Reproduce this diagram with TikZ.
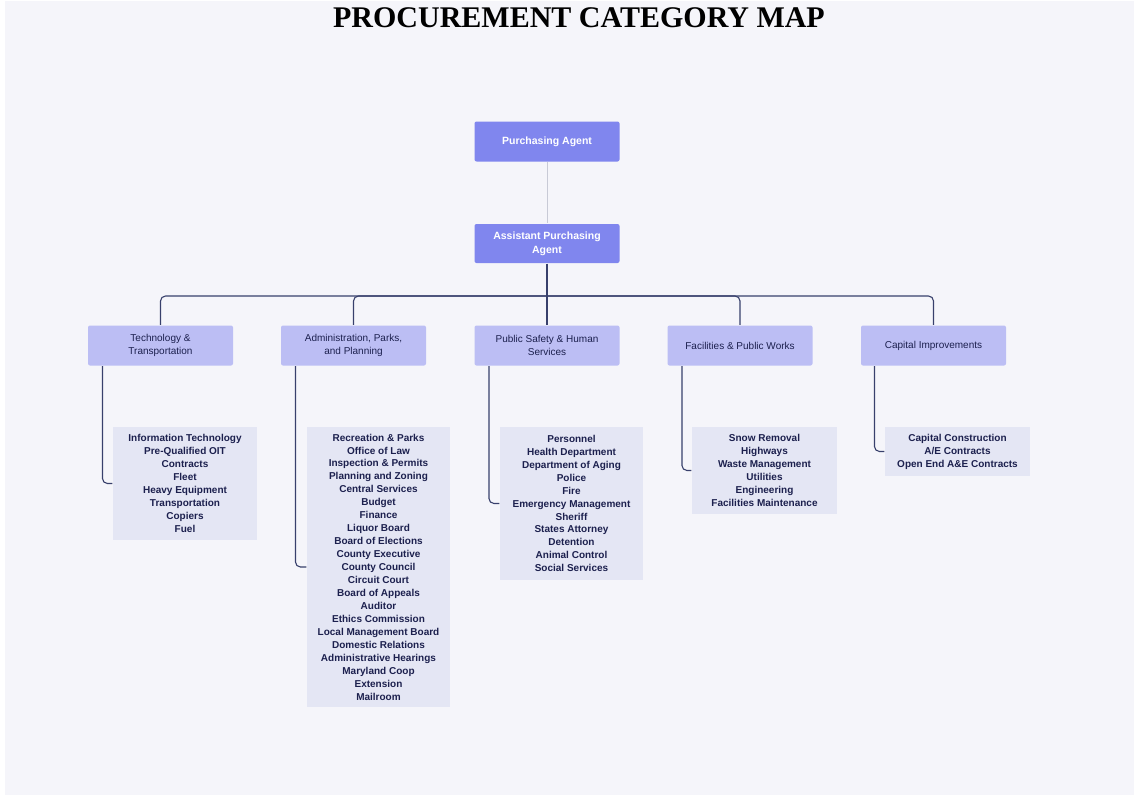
\documentclass[tikz,border=0pt]{standalone}
\usepackage{fontspec}
\setmainfont{Liberation Sans}
\newfontfamily\titlefont{Liberation Serif}
\definecolor{pagebg}{RGB}{245,245,250}
\definecolor{agentfill}{RGB}{128,134,238}
\definecolor{catfill}{RGB}{188,190,244}
\definecolor{listfill}{RGB}{228,230,244}
\definecolor{navyink}{RGB}{28,32,78}
\definecolor{wire}{RGB}{56,64,108}
\definecolor{softwire}{RGB}{200,202,214}

\begin{document}
\begin{tikzpicture}[x=1pt,y=-1pt,line width=1.1pt,
  agent/.style={fill=agentfill,rounded corners=2pt,minimum width=145pt,minimum height=40pt,
    text=white,align=center,font=\bfseries\fontsize{10.5}{14}\selectfont},
  category/.style={fill=catfill,rounded corners=2pt,minimum width=145pt,minimum height=40pt,
    text=navyink,align=center,font=\fontsize{10}{13.5}\selectfont},
  unitlist/.style={fill=listfill,minimum width=144pt,inner sep=3pt,
    text=navyink,align=center,font=\bfseries\fontsize{10}{12.95}\selectfont},
  feed/.style={draw=wire,rounded corners=5pt}]
% ---------- page ----------
\fill[white] (0,0) rectangle (1134,795);
\fill[pagebg] (5,1) rectangle (1134,795);
\useasboundingbox (0,0) rectangle (1134,795);
\node[font=\titlefont\bfseries\fontsize{30}{32}\selectfont,text=black] (title) at (579,18) {PROCUREMENT CATEGORY MAP};
% ---------- agents ----------
\node[agent] (pa) at (547,141.5) {Purchasing Agent};
\node[agent,minimum height=39pt] (apa) at (547,243.5) {Assistant Purchasing\\Agent};
\draw[draw=softwire,line width=0.6pt] (pa) -- (apa);
% ---------- categories ----------
\node[category] (tech) at (160.5,345.5) {Technology \&\\Transportation};
\node[category] (admin) at (353.5,345.5) {Administration, Parks,\\and Planning};
\node[category] (safety) at (547,345.5) {Public Safety \& Human\\Services};
\node[category] (works) at (740,345.5) {Facilities \& Public Works};
\node[category] (capital) at (933.5,345.5) {Capital Improvements};
\coordinate (bus) at (547,296);
\draw[wire] (apa) -- (bus) -- (safety);
\foreach \cat in {tech,admin,works,capital}
  \draw[feed] (bus) -| (\cat);
% ---------- unit lists ----------
\node[unitlist,minimum height=113pt] (techlist) at (185,483.5) {Information Technology\\Pre-Qualified OIT\\Contracts\\Fleet\\Heavy Equipment\\Transportation\\Copiers\\Fuel};
\node[unitlist,minimum width=143pt,minimum height=280pt] (adminlist) at (378.5,567) {Recreation \& Parks\\Office of Law\\Inspection \& Permits\\Planning and Zoning\\Central Services\\Budget\\Finance\\Liquor Board\\Board of Elections\\County Executive\\County Council\\Circuit Court\\Board of Appeals\\Auditor\\Ethics Commission\\Local Management Board\\Domestic Relations\\Administrative Hearings\\Maryland Coop\\Extension\\Mailroom};
\node[unitlist,minimum width=143pt,minimum height=153pt] (safetylist) at (571.5,503.5) {Personnel\\Health Department\\Department of Aging\\Police\\Fire\\Emergency Management\\Sheriff\\States Attorney\\Detention\\Animal Control\\Social Services};
\node[unitlist,minimum width=145pt,minimum height=87pt] (workslist) at (764.5,470.5) {Snow Removal\\Highways\\Waste Management\\Utilities\\Engineering\\Facilities Maintenance};
\node[unitlist,minimum width=145pt,minimum height=49pt] (capitallist) at (957.5,451.5) {Capital Construction\\A/E Contracts\\Open End A\&E Contracts};
% category to list
\draw[feed] ([xshift=15pt]tech.south west) |- (techlist.west);
\draw[feed] ([xshift=15pt]admin.south west) |- (adminlist.west);
\draw[feed] ([xshift=15pt]safety.south west) |- (safetylist.west);
\draw[feed] ([xshift=15pt]works.south west) |- (workslist.west);
\draw[feed] ([xshift=14pt]capital.south west) |- (capitallist.west);
\end{tikzpicture}
\end{document}
